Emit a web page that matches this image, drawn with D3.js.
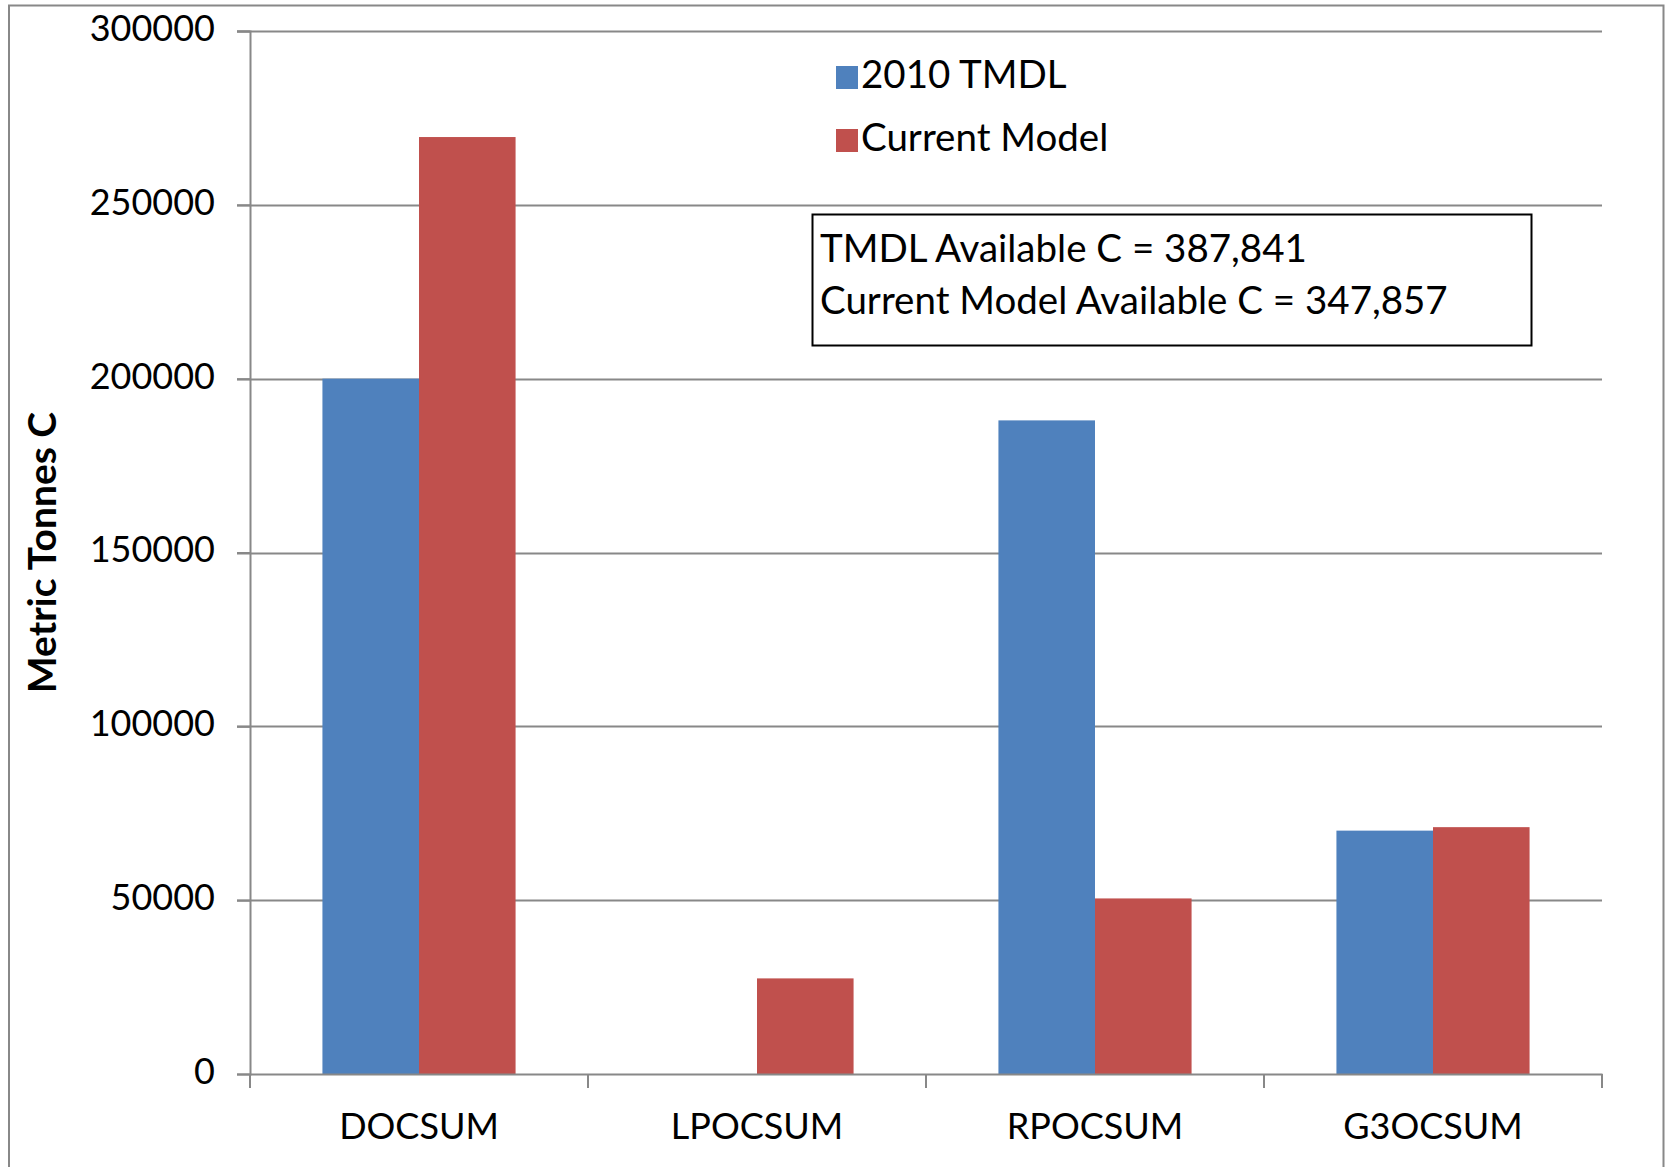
<!DOCTYPE html>
<html>
<head>
<meta charset="utf-8">
<script src="https://cdn.jsdelivr.net/npm/d3@7"></script>
<style>
  body { margin: 0; background: #fff; }
  svg text { font-family: Lato, 'Open Sans', sans-serif; fill: #000; }
</style>
</head>
<body>
<svg id="chart" width="1669" height="1167"></svg>
<script>
// data
const categories = ['DOCSUM', 'LPOCSUM', 'RPOCSUM', 'G3OCSUM']
const seriesNames = ['2010 TMDL', 'Current Model']
const tmdlValues = [200000, 0, 188000, 70000]
const currentValues = [269500, 27500, 50500, 71000]
const yTicks = [0, 50000, 100000, 150000, 200000, 250000, 300000]
const noteLines = ['TMDL Available C = 387,841', 'Current Model Available C = 347,857']
const colors = ['#4F81BD', '#C0504D']

const margin = { left: 250, top: 31, right: 67, bottom: 93 }
const width = 1669
const height = 1167
const innerWidth = width - margin.left - margin.right
const innerHeight = height - margin.top - margin.bottom

const svg = d3.select('#chart')

// outer chart border (bottom edge sits below the visible area)
svg.append('path')
  .attr('d', `M9,${height} V5.5 H1663.5 V${height}`)
  .attr('fill', 'none')
  .attr('stroke', '#888')
  .attr('stroke-width', 2)

const g = svg.append('g')
  .attr('transform', `translate(${margin.left}, ${margin.top})`)

// scales
const xScale = d3.scaleBand().domain(categories).range([0, innerWidth])
const xInner = d3.scaleBand().domain(seriesNames).range([0, xScale.bandwidth()]).paddingOuter(0.75).paddingInner(0)
const yScale = d3.scaleLinear().domain([0, 300000]).range([innerHeight, 0])

// gridlines
g.append('g')
  .selectAll('line')
  .data(yTicks.filter(d => d > 0))
  .enter()
  .append('line')
  .attr('x1', -13)
  .attr('x2', innerWidth)
  .attr('y1', d => Math.round(yScale(d)) + 0.5)
  .attr('y2', d => Math.round(yScale(d)) + 0.5)
  .attr('stroke', '#888')
  .attr('stroke-width', 2)

// bars
const rows = categories.map((c, i) => ({ cat: c, values: [tmdlValues[i], currentValues[i]] }))
g.append('g')
  .selectAll('g')
  .data(rows)
  .enter()
  .append('g')
  .attr('transform', d => `translate(${xScale(d.cat)}, 0)`)
  .selectAll('rect')
  .data(d => d.values.map((v, j) => ({ name: seriesNames[j], value: v, color: colors[j] })))
  .enter()
  .filter(d => d.value > 0)
  .append('rect')
  .attr('x', d => xInner(d.name))
  .attr('width', xInner.bandwidth())
  .attr('y', d => yScale(d.value))
  .attr('height', d => yScale(0) - yScale(d.value))
  .attr('fill', d => d.color)

// y axis
const yAxis = d3.axisLeft(yScale).tickValues(yTicks).tickSize(13).tickPadding(22).tickFormat(d3.format('d'))
const yAxisG = g.append('g').call(yAxis)
yAxisG.select('.domain').attr('stroke', '#888').attr('stroke-width', 2)
yAxisG.selectAll('.tick line').attr('stroke', '#888').attr('stroke-width', 2)
yAxisG.selectAll('.tick text')
  .style('font-size', '36px')
  .attr('dy', '0.26em')

// x axis
const xAxisG = g.append('g')
  .attr('transform', `translate(0, ${innerHeight})`)
  .call(d3.axisBottom(xScale).tickSize(0).tickPadding(39))
xAxisG.select('.domain').attr('stroke', '#888').attr('stroke-width', 2)
xAxisG.selectAll('.tick text').style('font-size', '36px')
xAxisG.selectAll('.sep')
  .data(d3.range(categories.length + 1))
  .enter()
  .append('line')
  .attr('class', 'sep')
  .attr('x1', i => i * xScale.step())
  .attr('x2', i => i * xScale.step())
  .attr('y1', 0)
  .attr('y2', 14)
  .attr('stroke', '#888')
  .attr('stroke-width', 2)

// y axis title
svg.append('text')
  .text('Metric Tonnes C')
  .style('font-size', '39px')
  .style('font-weight', 'bold')
  .style('text-anchor', 'middle')
  .attr('transform', `translate(56, ${margin.top + innerHeight / 2}) rotate(-90)`)

// legend
const legend = svg.append('g').attr('transform', 'translate(836, 66)')
seriesNames.forEach((name, i) => {
  legend.append('rect')
    .attr('x', 0).attr('y', i * 63)
    .attr('width', 22).attr('height', 23)
    .attr('fill', colors[i])
  legend.append('text')
    .attr('x', 25).attr('y', i * 63 + 22)
    .style('font-size', '38.5px')
    .text(name)
})

// note box
const note = svg.append('g')
note.append('rect')
  .attr('x', 812.5).attr('y', 214.5)
  .attr('width', 719).attr('height', 131)
  .attr('fill', '#fff')
  .attr('stroke', '#000')
  .attr('stroke-width', 2)
noteLines.forEach((line, i) => {
  note.append('text')
    .attr('x', 820)
    .attr('y', 262 + i * 52)
    .style('font-size', '38.5px')
    .text(line)
})
</script>
</body>
</html>
